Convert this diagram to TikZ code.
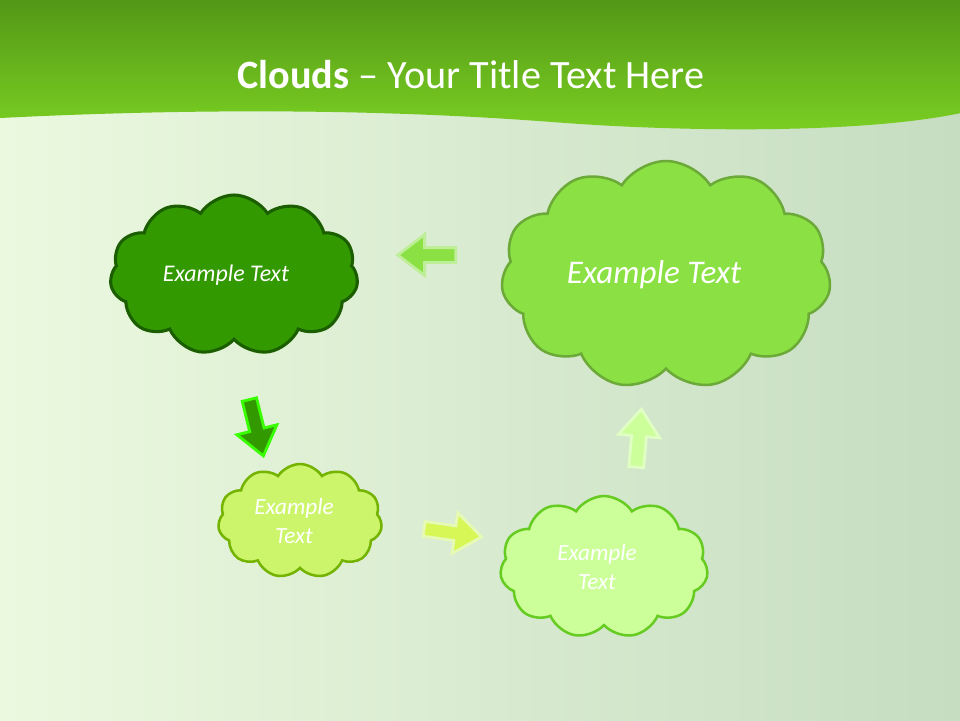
\documentclass[tikz,border=0pt]{standalone}
\usepackage{fontspec}
\setmainfont{Carlito}
\usetikzlibrary{positioning,shapes.symbols,shapes.arrows}

\definecolor{hdrtop}{HTML}{539816}
\definecolor{hdrbot}{HTML}{7BD023}
\definecolor{bgleft}{HTML}{EBF9DF}
\definecolor{bgmid}{HTML}{D4E9C9}
\definecolor{bgright}{HTML}{C6DDC1}
\definecolor{darkfill}{HTML}{339900}
\definecolor{darkline}{HTML}{1B5E00}
\definecolor{bigfill}{HTML}{8BE143}
\definecolor{bigline}{HTML}{6BAA38}
\definecolor{limefill}{HTML}{CCF56C}
\definecolor{limeline}{HTML}{74B300}
\definecolor{palefill}{HTML}{CCFF99}
\definecolor{paleline}{HTML}{66CC22}

\begin{document}
\begin{tikzpicture}[on grid,
    puff/.style={cloud, cloud puffs=11, cloud puff arc=115, cloud ignores aspect,
      line width=1.8pt, text=white, align=center},
    blockarrow/.style={single arrow, single arrow tip angle=75,
      single arrow head extend=0.33cm, inner sep=0.15cm, minimum height=1.45cm,
      line width=2pt}]
  \useasboundingbox (0,0) rectangle (24,-18);
  \shade[left color=bgleft, middle color=bgmid, right color=bgright] (0,0) rectangle (24,-18);
  \shade[top color=hdrtop, bottom color=hdrbot] (0,0) -- (24,0) -- (24,-2.83)
    .. controls (21.5,-3.35) and (17,-3.3) .. (13.8,-3.05)
    .. controls (10.5,-2.8) and (6,-2.65) .. (0,-2.95) -- cycle;
  \node [text=white, font=\fontsize{28.6}{34}\selectfont] (T) at (11.775,-1.875)
    {\textbf{Clouds} – Your Title Text Here};

  % clouds
  \node [puff, fill=darkfill, draw=darkline, line width=2.2pt, minimum width=6.2cm,
    minimum height=4cm, font=\fontsize{17}{20}\selectfont\itshape] (B) at (5.85,-6.875)
    {Example Text\hspace*{0.4cm}};
  \node [puff, fill=bigfill, draw=bigline, minimum width=8.25cm, minimum height=5.7cm,
    font=\fontsize{23.5}{28}\selectfont\itshape, right=10.8cm of B] (A)
    {Example Text\hspace*{0.6cm}};
  \node [puff, fill=limefill, draw=limeline, minimum width=4.1cm, minimum height=2.85cm,
    font=\fontsize{16.5}{20.6}\selectfont\itshape, below right=6.15cm and 1.65cm of B] (C)
    {Example\hspace*{0.3cm}\\Text\hspace*{0.3cm}};
  \node [puff, fill=palefill, draw=paleline, minimum width=5.2cm, minimum height=3.55cm,
    font=\fontsize{16.5}{20.6}\selectfont\itshape, below right=1.15cm and 7.6cm of C] (D)
    {Example\hspace*{0.35cm}\\Text\hspace*{0.35cm}};

  % arrows
  \node [blockarrow, fill=bigfill, draw=bigfill!55!white, rotate=180,
    above right=0.5cm and 4.94cm of B] (AB) {};
  \node [blockarrow, fill=darkfill, draw=green!70!lime, rotate=-76,
    below right=3.7cm and 0.53cm of B] (BC) {};
  \node [blockarrow, fill=limefill!80!yellow, draw=limefill!50!white, rotate=-8,
    below right=0.28cm and 3.7cm of C] (CD) {};
  \node [blockarrow, fill=palefill, draw=palefill!60!white, rotate=85,
    above right=3.1cm and 0.86cm of D] (DA) {};
\end{tikzpicture}
\end{document}
